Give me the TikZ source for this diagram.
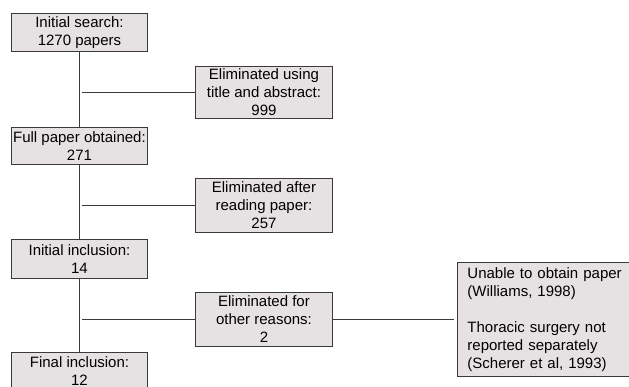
\documentclass[tikz,border=0pt]{standalone}
\usepackage{fontspec}
\setmainfont{Liberation Sans}
\definecolor{boxfill}{HTML}{E6E2E4}
\definecolor{linec}{HTML}{3A3A3A}
\begin{document}
\begin{tikzpicture}[x=1pt,y=-1pt,
  flowbox/.style={draw=linec, line width=0.9pt, fill=boxfill, inner sep=0pt,
    font=\fontsize{15}{18}\selectfont, align=center, anchor=north west,
    minimum width=136pt},
  notebox/.style={draw=linec, line width=0.9pt, fill=boxfill, inner xsep=10pt, inner ysep=3pt,
    font=\fontsize{15}{18}\selectfont, align=left, anchor=north west,
    text width=160pt, minimum height=114pt},
  conn/.style={draw=linec, line width=0.9pt}]
\useasboundingbox (0,0) rectangle (629,387);
\clip (0,0) rectangle (629,387);
\node[flowbox, minimum height=38pt] (s) at (11,13) {Initial search:\\1270 papers};
\node[flowbox, minimum height=37pt] (f) at (11,127) {Full paper obtained:\\271};
\node[flowbox, minimum height=39pt] (i) at (11,239) {Initial inclusion:\\14};
\node[flowbox, minimum height=38pt] (fi) at (11,352) {Final inclusion:\\12};
\node[flowbox, minimum height=52pt, minimum width=137pt] (e1) at (195,66) {Eliminated using\\title and abstract:\\999};
\node[flowbox, minimum height=54pt, minimum width=137pt] (e2) at (195,178) {Eliminated after\\reading paper:\\257};
\node[flowbox, minimum height=54pt, minimum width=137pt] (e3) at (195,292) {Eliminated for\\other reasons:\\2};
\node[notebox] (r) at (457,262) {Unable to obtain paper\\(Williams, 1998)\\[18pt]Thoracic surgery not\\reported separately\\(Scherer et al, 1993)};
\coordinate (b1) at (82,92);
\coordinate (b2) at (82,205);
\coordinate (b3) at (82,319);
\draw[conn] (s.south) -- (f.north);
\draw[conn] (f.south) -- (i.north);
\draw[conn] (i.south) -- (fi.north);
\draw[conn] (b1) -- (b1 -| e1.west);
\draw[conn] (b2) -- (b2 -| e2.west);
\draw[conn] (b3) -- (b3 -| e3.west);
\draw[conn, shorten >=3pt] (e3.east) -- (e3.east -| r.west);
\end{tikzpicture}
\end{document}
